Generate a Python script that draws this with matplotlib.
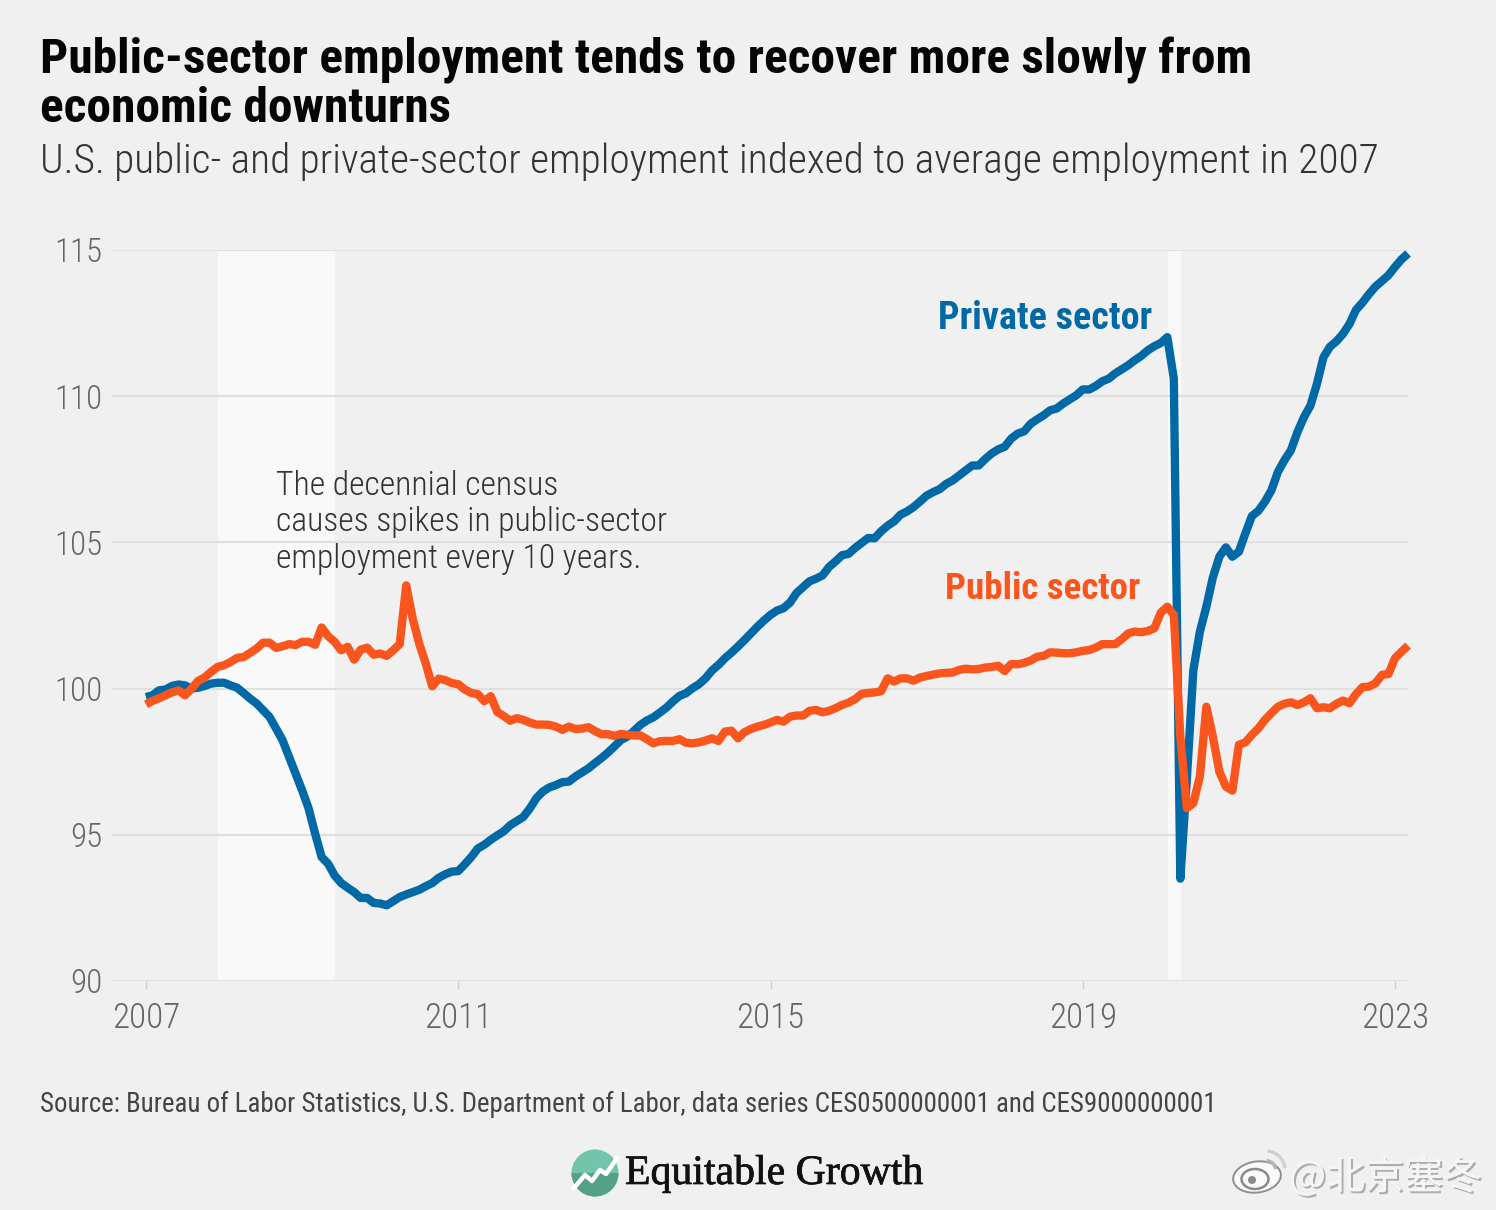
import matplotlib
matplotlib.use("Agg")
import matplotlib.pyplot as plt
from matplotlib.patches import Circle, Ellipse, Polygon, Arc
from matplotlib import patheffects as pe
import numpy as np

W, H = 1496, 1210
BG = "#f0f0f0"
SANS = ["Roboto Condensed", "Roboto", "DejaVu Sans"]

private_sector = [
 99.71,99.77,99.94,99.97,100.09,100.14,100.11,100.0,100.03,100.09,100.17,100.2,
 100.2,100.11,100.03,99.85,99.66,99.49,99.26,99.03,98.63,98.23,97.66,97.09,
 96.52,95.9,95.04,94.24,94.01,93.61,93.35,93.19,93.04,92.84,92.84,92.67,
 92.65,92.59,92.73,92.87,92.96,93.04,93.12,93.24,93.35,93.53,93.65,93.74,
 93.76,93.99,94.24,94.53,94.66,94.83,94.98,95.12,95.33,95.47,95.61,95.9,
 96.25,96.48,96.62,96.7,96.8,96.82,96.99,97.13,97.27,97.45,97.62,97.81,
 98.02,98.24,98.36,98.55,98.76,98.91,99.02,99.18,99.35,99.56,99.75,99.84,
 100.01,100.15,100.35,100.62,100.81,101.04,101.23,101.44,101.66,101.89,102.12,102.33,
 102.52,102.67,102.75,102.94,103.27,103.47,103.67,103.76,103.87,104.16,104.35,104.56,
 104.61,104.81,104.98,105.15,105.14,105.38,105.57,105.72,105.95,106.06,106.21,106.4,
 106.6,106.72,106.82,107.0,107.12,107.29,107.46,107.63,107.63,107.85,108.04,108.18,
 108.27,108.55,108.72,108.8,109.06,109.21,109.35,109.52,109.58,109.75,109.89,110.03,
 110.23,110.23,110.35,110.51,110.6,110.78,110.92,111.06,111.23,111.38,111.57,111.71,
 111.82,112.02,110.6,93.5,96.9,100.63,101.94,102.8,103.8,104.51,104.83,104.51,
 104.68,105.31,105.9,106.08,106.39,106.78,107.41,107.81,108.15,108.77,109.28,109.68,
 110.42,111.33,111.69,111.88,112.13,112.47,112.95,113.2,113.49,113.75,113.94,114.14,
 114.42,114.68,114.88]

public_sector = [
 99.46,99.58,99.67,99.77,99.87,99.94,99.77,100.0,100.26,100.38,100.57,100.74,
 100.8,100.91,101.05,101.08,101.22,101.37,101.57,101.57,101.39,101.45,101.52,101.49,
 101.6,101.6,101.5,102.09,101.79,101.6,101.31,101.43,100.99,101.33,101.4,101.16,
 101.2,101.12,101.31,101.52,103.53,102.39,101.54,100.86,100.08,100.34,100.29,100.19,
 100.15,99.97,99.85,99.81,99.57,99.74,99.2,99.06,98.9,98.99,98.93,98.84,
 98.77,98.77,98.76,98.7,98.59,98.7,98.62,98.63,98.68,98.55,98.44,98.44,
 98.38,98.45,98.42,98.4,98.4,98.27,98.13,98.2,98.21,98.21,98.27,98.15,
 98.13,98.16,98.22,98.3,98.21,98.53,98.56,98.3,98.51,98.62,98.7,98.76,
 98.84,98.93,98.87,99.04,99.08,99.08,99.24,99.27,99.19,99.24,99.33,99.44,
 99.52,99.64,99.82,99.85,99.87,99.91,100.35,100.24,100.35,100.35,100.27,100.38,
 100.43,100.48,100.52,100.54,100.55,100.64,100.68,100.66,100.67,100.72,100.74,100.78,
 100.6,100.84,100.83,100.88,100.96,101.09,101.12,101.24,101.23,101.21,101.21,101.24,
 101.29,101.32,101.4,101.52,101.52,101.52,101.69,101.89,101.95,101.93,101.97,102.06,
 102.6,102.8,102.52,98.36,95.91,96.08,96.99,99.38,98.36,97.16,96.65,96.51,
 98.08,98.16,98.42,98.64,98.93,99.16,99.38,99.48,99.53,99.44,99.53,99.67,
 99.33,99.36,99.33,99.48,99.59,99.5,99.81,100.05,100.07,100.18,100.47,100.5,
 101.04,101.26,101.47]

start_year = 2007
x_years = [start_year + m / 12 for m in range(len(private_sector))]
y_ticks = [90, 95, 100, 105, 110, 115]
x_ticks = [2007, 2011, 2015, 2019, 2023]
recessions = [(2007 + 11 / 12, 2009 + 5 / 12), (2020 + 1.1 / 12, 2020 + 3.1 / 12)]

title_lines = ["Public-sector employment tends to recover more slowly from", "economic downturns"]
subtitle = "U.S. public- and private-sector employment indexed to average employment in 2007"
note_lines = ["The decennial census", "causes spikes in public-sector", "employment every 10 years."]
source = "Source: Bureau of Labor Statistics, U.S. Department of Labor, data series CES0500000001 and CES9000000001"

fig = plt.figure(figsize=(W / 100, H / 100), dpi=100, facecolor=BG)

def px_text(x, y, s, size_px, **kw):
    return fig.text(x / W, 1 - y / H, s, fontsize=size_px * 0.72, **kw)

L, R, T, B = 112, 1408, 250, 981
ax = fig.add_axes([L / W, 1 - B / H, (R - L) / W, (B - T) / H], facecolor=BG)
px_per_year = (1395 - 146) / 16
ax.set_xlim(2007 - (146 - L) / px_per_year, 2023 + (R - 1395) / px_per_year)
ax.set_ylim(90, 115)
for s in ax.spines.values():
    s.set_visible(False)
ax.set_yticks(y_ticks)
ax.set_xticks(x_ticks)
ax.grid(axis="y", color="#dfdfdf", lw=1.6, zorder=1)
ax.grid(axis="x", visible=False)
ax.tick_params(axis="y", length=0, pad=7, labelsize=33 * 0.72, labelcolor="#666666")
ax.tick_params(axis="x", length=6, width=1, color="#cfcfcf", pad=9, labelsize=35 * 0.72, labelcolor="#666666")
for lab in ax.get_xticklabels() + ax.get_yticklabels():
    lab.set_family(SANS)
    lab.set_weight("light")
for a, b in recessions:
    ax.axvspan(a, b, color="#f9f9f9", lw=0, zorder=0.5)
ax.plot(x_years, private_sector, color="#0069a6", lw=6.0, solid_joinstyle="round", solid_capstyle="butt", zorder=3, clip_on=False)
ax.plot(x_years, public_sector, color="#f9551d", lw=6.0, solid_joinstyle="round", solid_capstyle="butt", zorder=4, clip_on=False)

for y, line in zip((73, 121.5), title_lines):
    px_text(40, y, line, 49.5, family=SANS, weight="bold", color="#050505", va="baseline")
px_text(40, 173, subtitle, 41.4, family=SANS, weight="light", color="#333333", va="baseline")
for y, line in zip((495, 531, 568), note_lines):
    px_text(276, y, line, 33.7, family=SANS, weight="light", color="#333333", va="baseline")
px_text(938, 329, "Private sector", 38, family=SANS, weight="bold", color="#0069a6", va="baseline")
px_text(945, 599, "Public sector", 37, family=SANS, weight="bold", color="#f9551d", va="baseline")
px_text(40, 1112, source, 26.9, family=SANS, color="#444444", va="baseline")

ov = fig.add_axes([0, 0, 1, 1], facecolor="none")
ov.set_xlim(0, W); ov.set_ylim(H, 0); ov.axis("off")
c = Circle((595, 1173), 23.5, color="#72c5aa", lw=0)
ov.add_patch(c)
lower = Polygon([(570, 1173), (620, 1173), (620, 1200), (570, 1200)], color="#55a088", lw=0)
ov.add_patch(lower); lower.set_clip_path(c)
ov.plot([574, 585, 592, 600, 606, 617], [1188, 1175, 1181, 1170, 1174, 1158], color="white", lw=3.2)
px_text(625, 1184, "Equitable Growth", 41.8, family=["Liberation Serif", "DejaVu Serif"], color="#111111", va="baseline",
        path_effects=[pe.withStroke(linewidth=0.5, foreground="#111111")])

ov.add_patch(Ellipse((1257, 1177), 48, 31, angle=-8, fc="#fafafa", ec="#8f8f8f", lw=1.4))
ov.add_patch(Ellipse((1255, 1179), 27, 20, fc="none", ec="#8a8a8a", lw=1.8))
ov.add_patch(Circle((1252, 1180), 4, fc="#8a8a8a", lw=0))
ov.add_patch(Arc((1266, 1170), 19, 19, theta1=-85, theta2=-5, ec="#b5b5b5", lw=2.4))
ov.add_patch(Arc((1266, 1170), 38, 38, theta1=-85, theta2=-5, ec="#cfcfcf", lw=2.4))
t = px_text(1289, 1189, "@北京塞冬", 39, family=["Noto Sans CJK SC", "DejaVu Sans"], color="#f5f5f5", va="baseline")
t.set_path_effects([pe.withSimplePatchShadow(offset=(1.5, -1.5), shadow_rgbFace="#777777", alpha=0.55), pe.Normal()])

fig.savefig("out.png", dpi=100, facecolor=BG)
